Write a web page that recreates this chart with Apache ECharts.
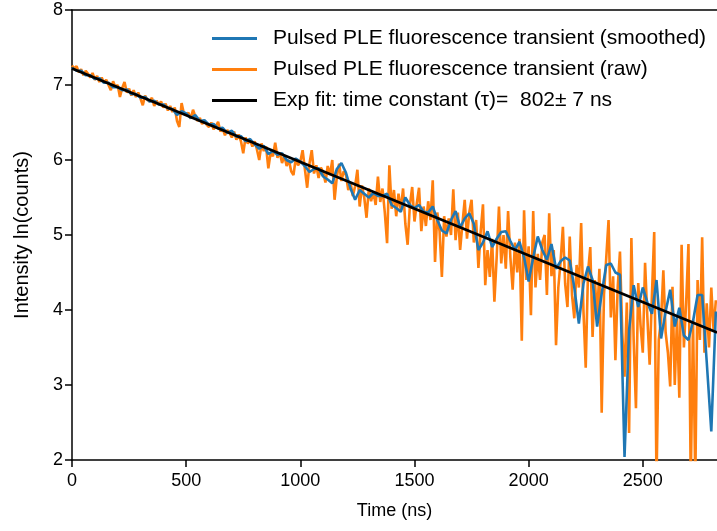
<!DOCTYPE html>
<html>
<head>
<meta charset="utf-8">
<script src="https://cdn.jsdelivr.net/npm/echarts@6/dist/echarts.min.js"></script>
<style>
html,body{margin:0;padding:0;background:#fff;}
#chart{width:717px;height:531px;}
</style>
</head>
<body>
<div id="chart"></div>
<script>
// ---- data ----
var RAW_DT = 10;      // ns between raw samples
var SMOOTH_DT = 20;   // ns between smoothed samples
var rawValues = [
 7.26,7.22,7.25,7.17,7.21,7.13,7.19,7.15,7.10,7.16,7.07,7.12,7.04,7.10,7.03,7.07,7.00,6.93,7.05,6.97,7.00,6.84,6.96,7.04,6.90,6.95,6.86,6.93,6.84,6.90,
 6.82,6.73,6.86,6.80,6.78,6.83,6.72,6.79,6.74,6.78,6.70,6.75,6.66,6.72,6.64,6.70,6.52,6.44,6.76,6.62,6.60,6.63,6.55,6.67,6.58,6.52,6.56,6.48,6.53,6.47,
 6.44,6.50,6.41,6.45,6.51,6.38,6.42,6.33,6.40,6.36,6.30,6.38,6.27,6.34,6.25,6.09,6.30,6.22,6.27,6.18,6.25,6.14,6.00,6.22,6.12,6.18,5.89,6.10,6.05,6.23,
 6.03,6.10,5.96,6.06,5.92,6.00,5.85,5.80,6.02,5.93,5.98,6.13,5.88,5.63,5.95,6.13,5.82,5.93,5.76,5.90,5.84,5.70,5.92,5.80,6.00,5.47,5.78,5.95,5.72,5.85,
 5.80,5.60,5.70,5.52,5.65,5.87,5.38,5.66,5.50,5.23,5.62,5.45,5.58,5.40,5.78,5.44,5.62,5.30,4.89,5.93,5.35,5.60,5.25,5.55,5.33,5.62,5.15,4.87,5.40,5.64,
 5.18,5.42,5.63,5.05,5.38,5.12,5.45,5.20,5.73,4.64,5.30,5.05,4.44,5.25,4.98,5.22,5.00,5.61,4.93,5.30,4.80,5.15,5.47,4.95,5.30,5.47,4.90,5.20,4.56,5.05,
 5.41,4.33,4.80,4.44,4.95,4.11,4.70,5.38,4.62,5.00,4.55,5.32,4.70,4.27,4.90,4.50,4.95,3.59,5.33,4.40,4.85,3.93,5.32,4.30,4.75,4.40,4.90,5.00,4.20,5.29,
 4.45,4.80,3.53,4.30,4.65,5.11,4.35,4.04,4.98,4.20,3.89,4.60,4.30,5.16,4.00,3.23,4.50,4.84,3.64,4.40,3.90,4.55,2.63,4.20,4.70,5.20,3.90,4.45,3.33,4.30,
 4.78,3.70,3.11,4.10,2.36,4.96,3.60,2.69,4.36,3.80,3.43,4.63,3.90,3.27,4.20,5.04,1.70,3.60,3.87,4.53,3.70,3.43,2.98,4.31,3.00,3.90,2.83,4.87,3.50,4.10,
 4.88,1.70,3.87,1.70,4.40,3.60,4.97,3.43,4.09,3.50,4.30,3.73,4.13
];
var smoothValues = [
 7.23,7.19,7.19,7.13,7.13,7.08,7.09,7.03,7.03,6.97,
 6.97,6.93,6.94,6.88,6.88,6.83,6.84,6.78,6.79,6.74,
 6.74,6.69,6.68,6.60,6.65,6.62,6.56,6.60,6.52,6.53,
 6.47,6.48,6.42,6.43,6.36,6.39,6.31,6.32,6.25,6.28,
 6.21,6.15,6.19,6.08,6.12,6.07,6.09,6.00,5.97,6.02,
 5.98,5.92,5.84,5.88,5.89,5.78,5.74,5.69,5.88,5.96,
 5.83,5.62,5.47,5.60,5.55,5.50,5.56,5.52,5.52,5.55,
 5.40,5.36,5.31,5.50,5.40,5.36,5.40,5.31,5.30,5.38,
 5.20,5.06,5.02,5.20,5.32,5.10,5.22,5.29,5.15,4.80,
 4.90,5.05,4.84,4.95,5.04,5.05,4.92,4.80,4.91,4.70,
 4.38,4.70,4.98,4.80,4.67,4.88,4.55,4.65,4.70,4.66,
 4.30,3.82,4.35,4.58,4.40,3.78,4.22,4.60,4.62,4.50,
 4.47,2.04,3.73,4.33,4.04,4.30,4.10,3.95,4.40,3.62,
 3.98,4.27,3.78,4.03,3.66,3.60,3.85,4.20,4.20,3.31,
 2.38,3.98
];
var fitTimes = [0, 2825];
var fitValues = [7.22, 3.70];
var xTicks = [0, 500, 1000, 1500, 2000, 2500];
var yTicks = [2, 3, 4, 5, 6, 7, 8];
var seriesNames = [
 'Pulsed PLE fluorescence transient (smoothed)',
 'Pulsed PLE fluorescence transient (raw)',
 'Exp fit: time constant (\u03c4)=  802\u00b1 7 ns'
];

// ---- build ----
var rawData = rawValues.map(function(v,i){return [i*RAW_DT, v];});
var smoothData = smoothValues.map(function(v,i){return [i*SMOOTH_DT, v];});
var fitData = fitTimes.map(function(t,i){return [t, fitValues[i]];});

var FONT = '"Liberation Sans", Arial, sans-serif';
var chart = echarts.init(document.getElementById('chart'), null, {renderer:'canvas'});
var axisCommon = {
  axisLine:{show:true, lineStyle:{color:'#000', width:1.5}},
  axisTick:{show:true, inside:false, length:7, lineStyle:{color:'#000', width:1.5}},
  axisLabel:{color:'#000', fontSize:18, fontFamily:FONT},
  splitLine:{show:false},
  nameTextStyle:{color:'#000', fontSize:18, fontFamily:FONT}
};
chart.setOption({
  animation:false,
  backgroundColor:'#fff',
  grid:{left:72, right:0, top:10, bottom:71, containLabel:false},
  legend:{
    orient:'vertical', left:207, top:23, itemGap:10,
    itemWidth:45, itemHeight:3, icon:'rect',
    textStyle:{color:'#000', fontSize:21, fontFamily:FONT, lineHeight:20, padding:[0,0,0,11]},
    data:[seriesNames[0], seriesNames[1], seriesNames[2]]
  },
  xAxis:[
    Object.assign({}, axisCommon, {
      type:'value', min:0, max:2825, interval:500, position:'bottom',
      name:'Time (ns)', nameLocation:'middle', nameGap:42,
      axisLabel:Object.assign({}, axisCommon.axisLabel, {margin:12, showMaxLabel:false,
        formatter:function(v){return xTicks.indexOf(v)>=0 ? String(v) : '';}})
    }),
    {type:'value', min:0, max:2825, position:'top',
     axisLine:{show:true, lineStyle:{color:'#000', width:1.5}},
     axisTick:{show:false}, axisLabel:{show:false}, splitLine:{show:false}}
  ],
  yAxis:[
    Object.assign({}, axisCommon, {
      type:'value', min:2, max:8, interval:1,
      name:'Intensity ln(counts)', nameLocation:'middle', nameGap:40,
      nameTextStyle:{color:'#000', fontSize:20, fontFamily:FONT},
      axisLabel:Object.assign({}, axisCommon.axisLabel, {margin:9,
        formatter:function(v){return yTicks.indexOf(v)>=0 ? String(v) : '';}})
    })
  ],
  series:[
    {name:seriesNames[1], type:'line', data:rawData, showSymbol:false, symbol:'none',
     lineStyle:{color:'#ff7f0e', width:2.6}, itemStyle:{color:'#ff7f0e'}, z:2, clip:true},
    {name:seriesNames[0], type:'line', data:smoothData, showSymbol:false, symbol:'none',
     lineStyle:{color:'#1f77b4', width:2.6}, itemStyle:{color:'#1f77b4'}, z:3, clip:true},
    {name:seriesNames[2], type:'line', data:fitData, showSymbol:false, symbol:'none',
     lineStyle:{color:'#000', width:2.6}, itemStyle:{color:'#000'}, z:4, clip:true}
  ]
});
</script>
</body>
</html>
